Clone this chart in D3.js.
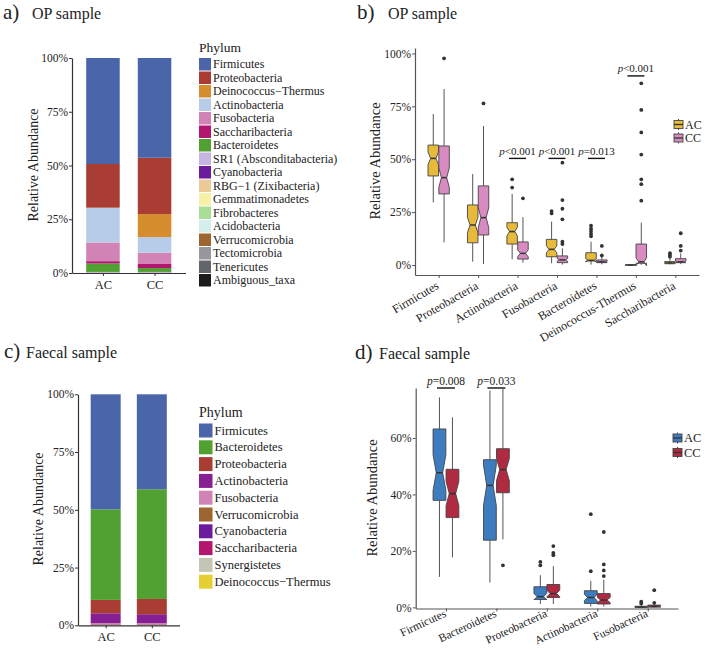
<!DOCTYPE html>
<html><head><meta charset="utf-8">
<script src="https://cdn.jsdelivr.net/npm/d3@7"></script>
<style>
body{margin:0;background:#fff}
svg{display:block}
text{font-family:"Liberation Serif","Times New Roman",serif;fill:#222}
</style>
</head><body>
<svg id="c" width="705" height="649"></svg>
<script>
// ---------------- DATA ----------------
const groups = ["AC", "CC"];

// Panel a: OP sample phylum composition (%)
const opPhyla = ["Firmicutes","Proteobacteria","Deinococcus\u2212Thermus","Actinobacteria","Fusobacteria","Saccharibacteria","Bacteroidetes","SR1 (Absconditabacteria)","Cyanobacteria","RBG\u22121 (Zixibacteria)","Gemmatimonadetes","Fibrobacteres","Acidobacteria","Verrucomicrobia","Tectomicrobia","Tenericutes","Ambiguous_taxa"];
const opAC = [49.3, 20.3, 0.1, 16.1, 8.7, 1.1, 3.9, 0.2, 0.1, 0.05, 0.02, 0.02, 0.02, 0.02, 0.02, 0.02, 0.03];
const opCC = [46.4, 26.2, 10.7, 7.3, 5.2, 1.9, 1.8, 0.2, 0.1, 0.05, 0.02, 0.02, 0.02, 0.02, 0.02, 0.02, 0.03];
const opColors = ["#4A65AA","#A93C33","#D58D2E","#B7CCE8","#D283B5","#B3166F","#51A132","#C6B4E2","#6B1C9E","#EACB98","#F6F1A7","#A8DE98","#D4EEEB","#9D6530","#96989C","#636669","#1C1C1C"];

// Panel c: Faecal sample phylum composition (%)
const fcPhyla = ["Firmicutes","Bacteroidetes","Proteobacteria","Actinobacteria","Fusobacteria","Verrucomicrobia","Cyanobacteria","Saccharibacteria","Synergistetes","Deinococcus\u2212Thermus"];
const fcAC = [49.8, 39.2, 5.8, 4.3, 0.4, 0.2, 0.15, 0.1, 0.03, 0.02];
const fcCC = [41.1, 47.5, 6.6, 3.9, 0.4, 0.2, 0.15, 0.1, 0.03, 0.02];
const fcColors = ["#4A65AA","#51A132","#A93C33","#861F92","#D283B5","#9D6530","#6B1C9E","#B3166F","#C5C5B5","#E5D033"];

const stackTicks = [0, 25, 50, 75, 100];

// Panel b: OP boxplots [lower whisker, Q1, median, Q3, upper whisker] (%)
const opBoxCats = ["Firmicutes","Proteobacteria","Actinobacteria","Fusobacteria","Bacteroidetes","Deinococcus-Thermus","Saccharibacteria"];
const opBoxAC = [
  [29.6, 42.1, 50.4, 56.7, 71.4],
  [1.6, 10.5, 18.9, 28.4, 43.0],
  [2.7, 9.9, 15.8, 20.0, 33.6],
  [0.8, 3.9, 7.4, 12.1, 20.5],
  [0.2, 1.9, 2.2, 5.8, 11.0],
  [0, 0, 0, 0, 0],
  [0.3, 0.6, 1.0, 1.6, 3.0]
];
const opBoxCC = [
  [10.7, 33.6, 41.3, 56.3, 83.2],
  [0.5, 14.2, 22.4, 37.4, 65.7],
  [1.1, 2.8, 5.5, 10.9, 22.6],
  [0.2, 1.1, 2.4, 4.3, 7.9],
  [0.3, 1.1, 1.5, 2.4, 3.8],
  [0.1, 0.8, 1.5, 9.9, 20.0],
  [0.4, 1.1, 1.5, 3.0, 5.5]
];
const opOutAC = [[], [], [40.5, 36.6], [25.5, 24.4], [18.6, 17.2, 16.1, 14.8, 13.6], [], [5.6, 4.7, 3.9]];
const opOutCC = [[97.7], [76.4], [31.5], [48.4, 30.7, 26.6, 21.6, 11.0, 9.9], [9.0, 4.5], [85.9, 73.3, 62.7, 52.2, 40.5, 38.2, 30.4], [15.0, 9.0, 6.8]];
const opPLabel = ["", "", "<0.001", "<0.001", "=0.013", "<0.001", ""];
const opPBarY = [null, null, 50.4, 50.4, 50.4, 89.4, null];
const opBoxTicks = [0, 25, 50, 75, 100];

// Panel d: Faecal boxplots
const fcBoxCats = ["Firmicutes","Bacteroidetes","Proteobacteria","Actinobacteria","Fusobacteria"];
const fcBoxAC = [
  [10.8, 37.9, 47.7, 63.2, 74.4],
  [8.8, 23.8, 43.2, 52.3, 76.8],
  [1.2, 2.8, 3.8, 7.3, 11.4],
  [0.3, 1.4, 3.5, 5.9, 9.4],
  [0, 0, 0.1, 0.4, 1.0]
];
const fcBoxCC = [
  [17.7, 31.8, 40.3, 48.9, 67.3],
  [24.1, 40.6, 48.8, 56.2, 77.4],
  [1.2, 3.5, 4.9, 8.1, 14.6],
  [0.3, 1.2, 2.6, 4.9, 9.8],
  [0, 0.1, 0.3, 0.8, 1.5]
];
const fcOutAC = [[], [], [16.1, 14.9], [33.0, 12.8], [2.0, 1.4]];
const fcOutCC = [[], [14.9], [21.7, 19.3, 18.5], [26.7, 15.2, 13.1, 11.1], [6.1, 1.6]];
const fcPLabel = ["=0.008", "=0.033", "", "", ""];
const fcPBarY = [77.7, 77.7, null, null, null];
const fcBoxTicks = [0, 20, 40, 60];

// ---------------- DRAWING ----------------
const svg = d3.select("#c");
const AX = "#333";

function panelTitle(lx, tx, y, letter, txt) {
  svg.append("text").attr("x", lx).attr("y", y).attr("font-size", 21).text(letter);
  svg.append("text").attr("x", tx).attr("y", y).attr("font-size", 16).text(txt);
}

function yTitle(x, y, size) {
  svg.append("text").attr("transform", `translate(${x},${y}) rotate(-90)`)
    .attr("text-anchor", "middle").attr("font-size", size).text("Relative Abundance");
}

function stackPanel(o) {
  const g = svg.append("g");
  const x = d3.scalePoint().domain(groups).range(o.xr).padding(0.6);
  const y = d3.scaleLinear().domain([0, 100]).range(o.yr);
  const bw = x.step() * 0.65;
  const rows = groups.map((gname, i) => {
    const r = {group: gname};
    o.phyla.forEach((p, j) => r[p] = o.vals[i][j]);
    return r;
  });
  const keys = o.phyla.slice().reverse();
  const colorOf = d3.scaleOrdinal().domain(o.phyla).range(o.colors);
  const series = d3.stack().keys(keys)(rows);
  g.selectAll("g.s").data(series).join("g").attr("fill", d => colorOf(d.key))
    .selectAll("rect").data(d => d).join("rect")
    .attr("x", d => x(d.data.group) - bw / 2).attr("width", bw)
    .attr("y", d => y(d[1])).attr("height", d => Math.max(0, y(d[0]) - y(d[1])));
  const ya = g.append("g").attr("transform", `translate(${o.xr[0]},0)`)
    .call(d3.axisLeft(y).tickValues(stackTicks).tickFormat(d => d + "%").tickSize(3).tickSizeOuter(0));
  const xa = g.append("g").attr("transform", `translate(0,${o.yr[0]})`)
    .call(d3.axisBottom(x).tickSize(3).tickSizeOuter(0));
  [ya, xa].forEach(a => {
    a.select(".domain").attr("stroke", AX).attr("stroke-width", 1.2);
    a.selectAll(".tick line").attr("stroke", AX);
    a.selectAll(".tick text").attr("font-family", '"Liberation Serif",serif').attr("font-size", 11.5).attr("fill", "#222");
  });
  ya.selectAll(".tick text").attr("x", -4);
  xa.selectAll(".tick text").attr("y", 7).attr("font-size", 12.5);
  const lg = svg.append("g");
  lg.append("text").attr("x", o.lx).attr("y", o.ly).attr("font-size", o.lts).text("Phylum");
  o.phyla.forEach((p, i) => {
    const yy = o.ly + o.lk0 + i * o.lp;
    lg.append("rect").attr("x", o.lx).attr("y", yy).attr("width", o.lkw).attr("height", o.lkh).attr("fill", colorOf(p));
    lg.append("text").attr("x", o.lx + o.lkw + 2).attr("y", yy + o.lkh / 2 + 4).attr("font-size", o.lfs).text(p);
  });
}

function drawBox(g, cx, w, s, col, n, y) {
  const [lo, q1, med, q3, hi] = s;
  const nh = 1.58 * (q3 - q1) / Math.sqrt(n);
  const nlo = med - nh, nhi = med + nh;
  const x0 = cx - w / 2, x1 = cx + w / 2, xi0 = cx - w / 4, xi1 = cx + w / 4;
  g.append("line").attr("x1", cx).attr("x2", cx).attr("y1", y(hi)).attr("y2", y(q3)).attr("stroke", "#555").attr("stroke-width", 1);
  g.append("line").attr("x1", cx).attr("x2", cx).attr("y1", y(q1)).attr("y2", y(lo)).attr("stroke", "#555").attr("stroke-width", 1);
  const pts = [[x0, y(q1)], [x0, y(nlo)], [xi0, y(med)], [x0, y(nhi)], [x0, y(q3)], [x1, y(q3)], [x1, y(nhi)], [xi1, y(med)], [x1, y(nlo)], [x1, y(q1)]];
  g.append("path").attr("d", d3.line()(pts) + "Z").attr("fill", col).attr("stroke", "#444").attr("stroke-width", 0.9);
  g.append("line").attr("x1", xi0).attr("x2", xi1).attr("y1", y(med)).attr("y2", y(med)).attr("stroke", "#333").attr("stroke-width", 1.5);
}

function boxPanel(o) {
  const g = svg.append("g");
  const x = d3.scalePoint().domain(o.cats).range(o.xr).padding(0.6);
  const y = d3.scaleLinear().domain(o.yd).range(o.yr);
  o.cats.forEach((c, i) => {
    const cx = x(c);
    [[o.ac, o.outAC, -1, o.colors[0]], [o.cc, o.outCC, 1, o.colors[1]]].forEach(([st, out, sgn, col]) => {
      const bx = cx + sgn * o.off;
      drawBox(g, bx, o.bw, st[i], col, o.n, y);
      out[i].forEach(v => g.append("circle").attr("cx", bx).attr("cy", y(v)).attr("r", 1.9).attr("fill", "#333"));
    });
    if (o.pBar[i] !== null) {
      g.append("line").attr("x1", cx - o.pbw).attr("x2", cx + o.pbw).attr("y1", y(o.pBar[i])).attr("y2", y(o.pBar[i]))
        .attr("stroke", "#111").attr("stroke-width", 1.4);
      const t = g.append("text").attr("x", cx).attr("y", y(o.pBar[i]) - 3.5).attr("text-anchor", "middle").attr("font-size", o.pfs);
      t.append("tspan").attr("font-style", "italic").text("p");
      t.append("tspan").text(o.pLab[i]);
    }
  });
  const ya = g.append("g").attr("transform", `translate(${o.xr[0]},0)`)
    .call(d3.axisLeft(y).tickValues(o.ticks).tickFormat(d => d + "%").tickSize(3).tickSizeOuter(0));
  const xa = g.append("g").attr("transform", `translate(0,${o.yr[0]})`)
    .call(d3.axisBottom(x).tickSize(3).tickSizeOuter(0).tickFormat(""));
  [ya, xa].forEach(a => {
    a.select(".domain").attr("stroke", "#555").attr("stroke-width", 1.2);
    a.selectAll(".tick line").attr("stroke", "#555");
  });
  ya.selectAll(".tick text").attr("font-family", '"Liberation Serif",serif').attr("font-size", 11.5).attr("fill", "#222").attr("x", -4);
  o.cats.forEach(c => {
    g.append("text").attr("transform", `translate(${x(c) + o.ex},${o.yr[0] + o.ey}) rotate(${-o.ang})`)
      .attr("text-anchor", "end").attr("font-size", o.xfs).text(c);
  });
  groups.forEach((gname, i) => {
    const cy = o.legY + i * o.legP;
    const kx = o.legX;
    g.append("line").attr("x1", kx + 4.5).attr("x2", kx + 4.5).attr("y1", cy - 5.5).attr("y2", cy + 5.5).attr("stroke", "#444");
    g.append("rect").attr("x", kx).attr("y", cy - 4).attr("width", 9).attr("height", 8).attr("fill", o.colors[i]).attr("stroke", "#444").attr("stroke-width", 0.9);
    g.append("line").attr("x1", kx).attr("x2", kx + 9).attr("y1", cy).attr("y2", cy).attr("stroke", "#333").attr("stroke-width", 1.3);
    g.append("text").attr("x", kx + 11).attr("y", cy + 4.3).attr("font-size", o.legFs).text(gname);
  });
}

// Titles
panelTitle(3, 32, 19, "a)", "OP sample");
panelTitle(357, 388, 19, "b)", "OP sample");
panelTitle(4, 26, 358, "c)", "Faecal sample");
panelTitle(355, 379, 359, "d)", "Faecal sample");

// Panel a
stackPanel({phyla: opPhyla, vals: [opAC, opCC], colors: opColors, xr: [72, 185.5], yr: [273, 58],
  lx: 199, ly: 52, lk0: 6, lp: 13.5, lkw: 12, lkh: 12.5, lts: 13.5, lfs: 12});
yTitle(38, 165, 14);

// Panel c
stackPanel({phyla: fcPhyla, vals: [fcAC, fcCC], colors: fcColors, xr: [78, 179.5], yr: [625.3, 394.3],
  lx: 199, ly: 417, lk0: 6.5, lp: 16.8, lkw: 13.5, lkh: 14, lts: 14, lfs: 12.5});
yTitle(43, 509, 14);

// Panel b
boxPanel({cats: opBoxCats, ac: opBoxAC, cc: opBoxCC, outAC: opOutAC, outCC: opOutCC, colors: ["#E7BA3B", "#D88BC0"],
  xr: [415, 699], yd: [-4.73, 102.6], yr: [275, 48], off: 5.4, bw: 10.5, n: 60, ticks: opBoxTicks,
  pBar: opPBarY, pLab: opPLabel, pbw: 8.5, pfs: 11, ex: 1, ey: 13, ang: 30, xfs: 12,
  legX: 674, legY: 124.5, legP: 13.5, legFs: 12});
yTitle(380, 161, 14.5);

// Panel d
boxPanel({cats: fcBoxCats, ac: fcBoxAC, cc: fcBoxCC, outAC: fcOutAC, outCC: fcOutCC, colors: ["#3E7CC0", "#B02A42"],
  xr: [415.7, 678], yd: [-0.4, 77.7], yr: [608.5, 388], off: 6.5, bw: 12.8, n: 40, ticks: fcBoxTicks,
  pBar: fcPBarY, pLab: fcPLabel, pbw: 9, pfs: 11.5, ex: 1, ey: 7.5, ang: 25, xfs: 11.5,
  legX: 673, legY: 438, legP: 14.5, legFs: 12.5});
yTitle(377, 498, 14.5);
</script>
</body></html>
